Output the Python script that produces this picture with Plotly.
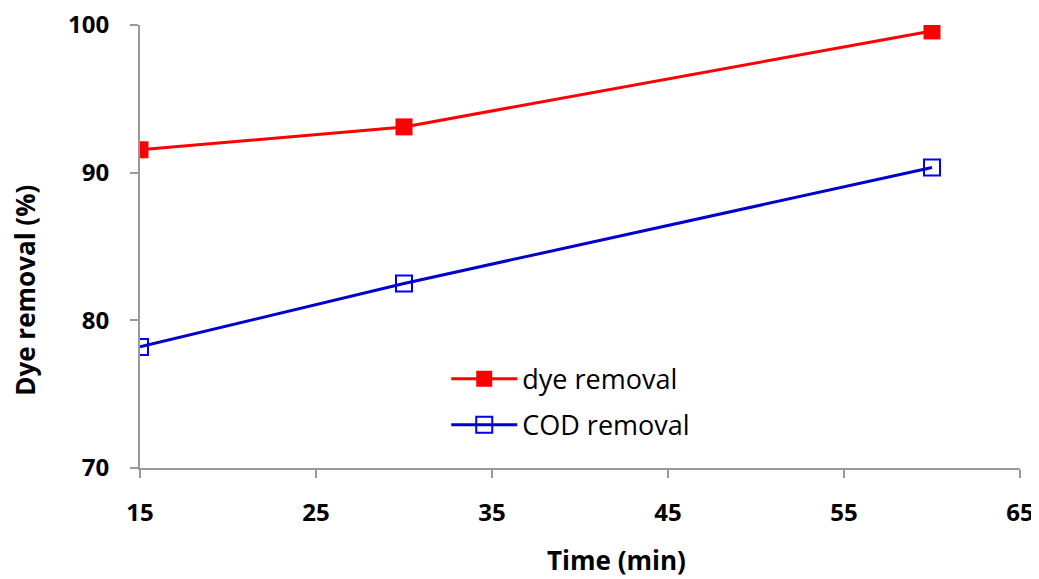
import plotly.graph_objects as go

time_min = [15, 30, 60]
dye_removal = [91.55, 93.1, 99.6]
cod_removal = [78.2, 82.5, 90.35]

x_ticks = [15, 25, 35, 45, 55, 65]
y_ticks = [70, 80, 90, 100]

FONT = "Open Sans, Lato, sans-serif"

fig = go.Figure()
fig.add_trace(go.Scatter(
    x=time_min, y=dye_removal, mode="lines+markers", name="dye removal",
    line=dict(color="#ff0000", width=3),
    marker=dict(symbol="square", size=17, color="#ff0000"),
    legendgroup="a",
))
fig.add_trace(go.Scatter(
    x=time_min, y=cod_removal, mode="lines+markers", name="COD removal",
    line=dict(color="#0000cc", width=3),
    marker=dict(symbol="square-open", size=16, color="#0000ee", line=dict(width=2)),
    legendgroup="b",
))

axis_common = dict(
    showgrid=False, zeroline=False, showline=True, linecolor="#9a9a9a", linewidth=2,
    ticks="outside", ticklen=8, tickwidth=2, tickcolor="#9a9a9a",
    tickfont=dict(family=FONT, size=24, color="#000000", weight="bold"),
    ticklabeloverflow="allow", automargin=False,
)

fig.update_xaxes(range=[15, 65], tickvals=x_ticks, ticklabelstandoff=14, **axis_common)
fig.update_yaxes(range=[70, 100], tickvals=y_ticks, ticklabelstandoff=16, **axis_common)

title_font = dict(family=FONT, size=26, color="#000000", weight="bold")
fig.add_annotation(text="Time (min)", xref="paper", yref="paper", x=0.542, y=0,
                   yshift=-92, xanchor="center", yanchor="middle", showarrow=False,
                   font=title_font)
fig.add_annotation(text="Dye removal (%)", xref="paper", yref="paper", x=0, y=0.40,
                   xshift=-115, xanchor="center", yanchor="middle", showarrow=False,
                   textangle=-90, font=title_font)

fig.update_layout(
    width=1039, height=579,
    margin=dict(l=132, r=27, t=17, b=119, autoexpand=False),
    plot_bgcolor="white", paper_bgcolor="white",
    legend=dict(
        x=0.348, y=0.256, xanchor="left", yanchor="top",
        font=dict(family=FONT, size=27, color="#000000"),
        bgcolor="rgba(0,0,0,0)", tracegroupgap=8, itemwidth=66,
    ),
)

fig.write_html("out.html")
